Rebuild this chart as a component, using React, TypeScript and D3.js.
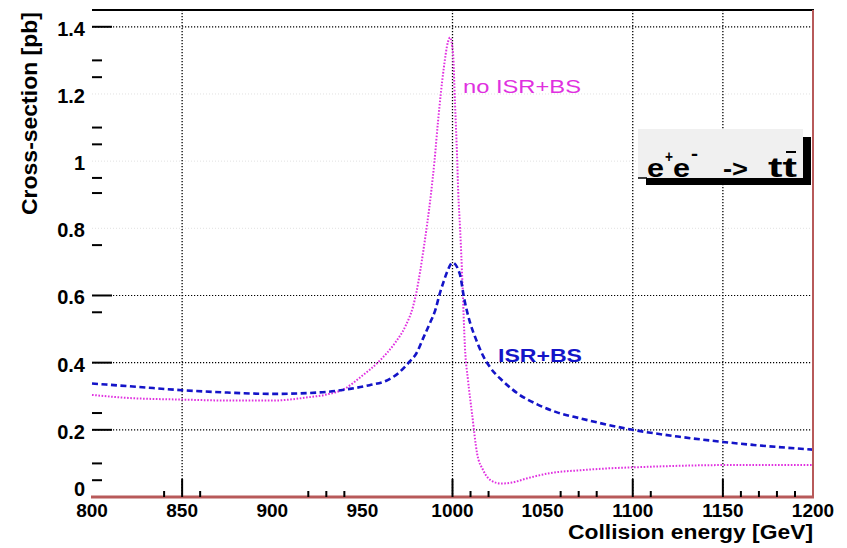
import React from 'react';
import * as d3 from 'd3';

// ---- data ----
const energyNoIsr = [800, 820, 850, 880, 900, 920, 930, 940, 949, 960, 968, 974, 978, 980, 982, 984, 986, 988, 990, 992, 995, 997.5, 998.6, 1000.3, 1001.4, 1002.5, 1003.2, 1004.2, 1005.5, 1006.9, 1008.6, 1010.8, 1013.6, 1017, 1022, 1027, 1033, 1041, 1054, 1072, 1089, 1104, 1120, 1150, 1200];
const xsecNoIsr = [0.304, 0.295, 0.29, 0.287, 0.287, 0.297, 0.305, 0.322, 0.357, 0.408, 0.458, 0.51, 0.565, 0.61, 0.67, 0.74, 0.815, 0.9, 1.0, 1.12, 1.27, 1.355, 1.368, 1.32, 1.17, 1.02, 0.905, 0.8, 0.64, 0.446, 0.348, 0.25, 0.131, 0.08, 0.047, 0.04, 0.043, 0.055, 0.071, 0.08, 0.086, 0.089, 0.092, 0.095, 0.095];

const energyIsr = [800, 825, 850, 875, 900, 928, 943, 954, 964, 970, 976, 980, 984, 987.5, 990.5, 993, 995, 997, 1000, 1004, 1006.5, 1009.7, 1013, 1017, 1021, 1028, 1037, 1047, 1058, 1071, 1086, 1100, 1125, 1150, 1167, 1200];
const xsecIsr = [0.338, 0.328, 0.318, 0.311, 0.307, 0.312, 0.322, 0.333, 0.348, 0.369, 0.402, 0.428, 0.476, 0.518, 0.557, 0.607, 0.64, 0.67, 0.698, 0.665, 0.59, 0.52, 0.47, 0.42, 0.385, 0.345, 0.305, 0.276, 0.252, 0.234, 0.215, 0.2, 0.18, 0.164, 0.155, 0.141];

const xTickValues = [800, 850, 900, 950, 1000, 1050, 1100, 1150, 1200];
const xTickLabels = ['800', '850', '900', '950', '1000', '1050', '1100', '1150', '1200'];
const xMajorTicks = [850, 1000, 1100, 1150];
const xMinorTicks = [840, 860, 920, 930, 940, 1010, 1020, 1060, 1070, 1080, 1110, 1160, 1170, 1180, 1190];
const xGrid = [850, 1000, 1100, 1150];

const yTickValues = [0, 0.2, 0.4, 0.6, 0.8, 1, 1.2, 1.4];
const yTickLabels = ['0', '0.2', '0.4', '0.6', '0.8', '1', '1.2', '1.4'];
const yMajorTicks = [0.2, 0.4, 0.6, 1.4];
const yMinorTicks = [0.05, 0.1, 0.25, 0.55, 0.75, 0.905, 0.95, 1.05, 1.1, 1.25, 1.3];
const yGrid = [0.2, 0.4, 0.6, 1.4];
const yGridFaint = [0.8, 1.0, 1.2];

const xTitle = 'Collision energy [GeV]';
const yTitle = 'Cross-section [pb]';
const labelNoIsr = 'no ISR+BS';
const labelIsr = 'ISR+BS';

const MAGENTA = '#e030e0';
const BLUE = '#1414c8';
const FRAME_RED = '#b85a5a';
const FONT = "'Liberation Sans', Arial, Helvetica, sans-serif";

export default function App() {
  const W = 847;
  const H = 548;
  const left = 92, right = 813, top = 10, bottom = 497;

  const x = d3.scaleLinear().domain([800, 1200]).range([left, right]);
  const y = d3.scaleLinear().domain([0, 1.45]).range([bottom, top]);

  const line = d3
    .line<[number, number]>()
    .x((d) => x(d[0]))
    .y((d) => y(d[1]))
    .curve(d3.curveMonotoneX);

  const noIsrPts: [number, number][] = energyNoIsr.map((e, i) => [e, xsecNoIsr[i]]);
  const isrPts: [number, number][] = energyIsr.map((e, i) => [e, xsecIsr[i]]);

  return (
    <svg
      width={W}
      height={H}
      style={{ position: 'absolute', left: 0, top: 0, background: '#fff' }}
      fontFamily={FONT}
    >
      <rect x={0} y={0} width={W} height={H} fill="#fff" />

      {/* grid */}
      {yGridFaint.map((v) => (
        <line key={'gf' + v} x1={left} x2={right} y1={y(v)} y2={y(v)} stroke="#000" strokeOpacity={0.12} strokeWidth={1} strokeDasharray="1 2" />
      ))}
      {yGrid.map((v) => (
        <line key={'gy' + v} x1={left} x2={right} y1={y(v)} y2={y(v)} stroke="#000" strokeWidth={1.2} strokeDasharray="1.2 1.8" />
      ))}
      {xGrid.map((v) => (
        <line key={'gx' + v} x1={x(v)} x2={x(v)} y1={top} y2={bottom} stroke="#000" strokeWidth={1.3} strokeDasharray="1.3 1.7" />
      ))}

      {/* curves */}
      <path d={line(noIsrPts) || ''} fill="none" stroke={MAGENTA} strokeWidth={2} strokeDasharray="1.6 1.6" />
      <path d={line(isrPts) || ''} fill="none" stroke={BLUE} strokeWidth={2.6} strokeDasharray="6 3.5" />

      {/* frame */}
      <line x1={left} x2={right + 1} y1={top} y2={top} stroke="#000" strokeWidth={2} />
      <line x1={right} x2={right} y1={top} y2={bottom} stroke={FRAME_RED} strokeWidth={2} />
      <line x1={left - 1} x2={right + 1} y1={bottom} y2={bottom} stroke={FRAME_RED} strokeWidth={3} />

      {/* y ticks */}
      {yMajorTicks.map((v) => (
        <line key={'yM' + v} x1={left} x2={left + 20} y1={y(v)} y2={y(v)} stroke="#000" strokeWidth={2} />
      ))}
      {yMinorTicks.map((v) => (
        <line key={'ym' + v} x1={left} x2={left + 10} y1={y(v)} y2={y(v)} stroke="#000" strokeWidth={2} />
      ))}
      {/* x ticks */}
      {xMajorTicks.map((v) => (
        <line key={'xM' + v} x1={x(v)} x2={x(v)} y1={bottom} y2={bottom - 18} stroke="#000" strokeWidth={2} />
      ))}
      {xMinorTicks.map((v) => (
        <line key={'xm' + v} x1={x(v)} x2={x(v)} y1={bottom} y2={bottom - 6} stroke="#000" strokeWidth={2} />
      ))}

      {/* tick labels */}
      {yTickValues.map((v, i) => (
        <text key={'yl' + v} x={85} y={v === 0 ? y(v) - 1 : y(v) + 9} textAnchor="end" fontSize={20} fontWeight="bold" fill="#000">
          {yTickLabels[i]}
        </text>
      ))}
      {xTickValues.map((v, i) => (
        <text key={'xl' + v} x={x(v)} y={517} textAnchor="middle" fontSize={19} fontWeight="bold" fill="#000">
          {xTickLabels[i]}
        </text>
      ))}

      {/* axis titles */}
      <text
        x={813}
        y={539}
        textAnchor="end"
        fontSize={21}
        fontWeight="bold"
        textLength={245}
        lengthAdjust="spacingAndGlyphs"
        fill="#000"
      >
        {xTitle}
      </text>
      <text
        transform="translate(37,12) rotate(-90)"
        x={0}
        y={0}
        textAnchor="end"
        fontSize={22}
        fontWeight="bold"
        textLength={203}
        lengthAdjust="spacingAndGlyphs"
        fill="#000"
      >
        {yTitle}
      </text>

      {/* curve labels */}
      <text x={463} y={93} fontSize={18} fill={MAGENTA} textLength={118} lengthAdjust="spacingAndGlyphs">
        {labelNoIsr}
      </text>
      <text x={498} y={362} fontSize={19} fontWeight="bold" fill={BLUE} textLength={84} lengthAdjust="spacingAndGlyphs">
        {labelIsr}
      </text>

      {/* process box */}
      <rect x={638} y={129} width={165} height={49} fill="#f0f0f0" />
      <rect x={803} y={137} width={8} height={48} fill="#000" />
      <rect x={646} y={178} width={165} height={7} fill="#000" />
      <line x1={638} x2={647} y1={178} y2={178} stroke="#000" strokeWidth={1.5} />
      <g fontWeight="bold" fill="#000">
        <text x={647} y={177} fontSize={26} textLength={17} lengthAdjust="spacingAndGlyphs">e</text>
        <text x={665} y={162} fontSize={16} textLength={8} lengthAdjust="spacingAndGlyphs">+</text>
        <text x={673} y={177} fontSize={26} textLength={17} lengthAdjust="spacingAndGlyphs">e</text>
        <text x={691} y={160} fontSize={18} textLength={7} lengthAdjust="spacingAndGlyphs">-</text>
        <text x={723} y={177} fontSize={24} textLength={25} lengthAdjust="spacingAndGlyphs">{'->'}</text>
        <text x={768} y={177} fontSize={27} textLength={29} lengthAdjust="spacingAndGlyphs">tt</text>
        <line x1={786} x2={796} y1={152} y2={152} stroke="#000" strokeWidth={2} />
      </g>
    </svg>
  );
}
